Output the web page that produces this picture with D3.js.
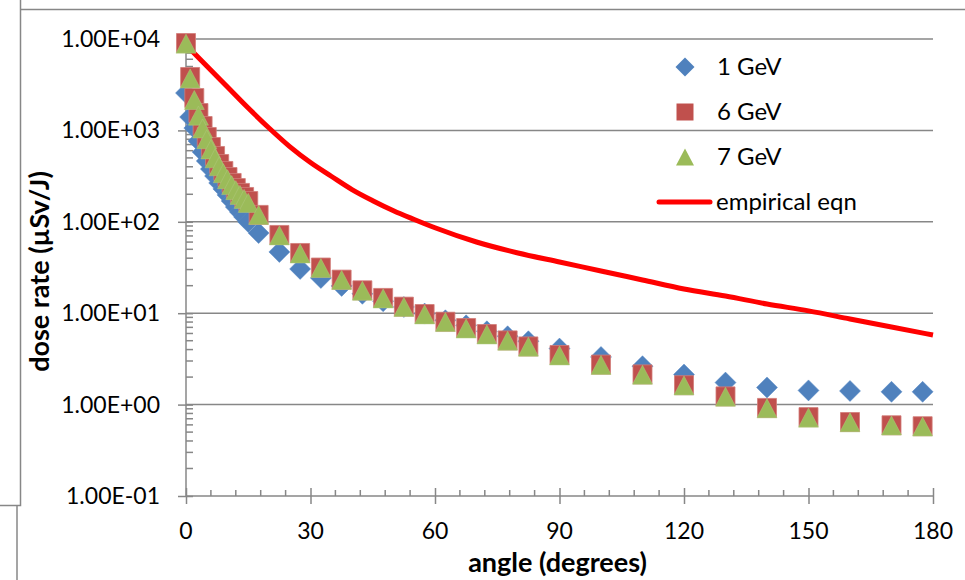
<!DOCTYPE html>
<html>
<head>
<meta charset="utf-8">
<script src="https://cdn.jsdelivr.net/npm/d3@7"></script>
<style>
  html, body { margin: 0; padding: 0; background: #fff; }
  svg { display: block; }
  text { font-family: Lato, "Noto Sans", sans-serif; fill: #000; }
</style>
</head>
<body>
<svg id="chart" width="965" height="580"></svg>
<script>
// ---- data ----
const angles = [0,1,2,3,4,5,6,7,8,9,10,11,12,13,14,15,
  17.5,22.5,27.5,32.5,37.5,42.5,47.5,52.5,57.5,62.5,67.5,72.5,77.5,82.5,
  90,100,110,120,130,140,150,160,170,177.5];
const gev1 = [2565,1400,1060,766,580,463,378,317,266,229,197,169,145,128,113,99.6,
  75.3,46.8,30.5,24.3,19.9,16.3,13.5,11.7,9.9,8.36,7.37,6.34,5.59,4.93,
  4.10,3.32,2.63,2.13,1.74,1.54,1.43,1.41,1.38,1.38];
const gev6 = [9040,3840,2260,1550,1117,847,658,525,429,360,309,266,234,207,187,169,
  119,71.8,45.6,31.6,23.3,17.8,14.7,11.8,9.8,8.07,6.89,5.92,5.04,4.33,
  3.49,2.74,2.14,1.63,1.23,0.92,0.73,0.645,0.594,0.58];
const gev7 = [8900,3700,2150,1450,1050,800,620,495,405,340,292,252,222,197,178,161,
  119,71,45,31.2,23.1,17.6,14.5,11.7,9.7,8.0,6.8,5.85,5.0,4.3,
  3.45,2.72,2.12,1.62,1.22,0.91,0.72,0.64,0.59,0.575];
const empAngles = [0,5,10,15,20,25,30,35,40,45,50,55,60,70,80,90,100,110,120,130,140,150,160,170,180];
const empValues = [8590,5070,2985,1758,1062,665,445,315,225,170,132,106,86,60.1,45.6,36.3,29.0,23.1,18.4,15.4,12.6,10.6,8.65,7.07,5.77];
const xTicks = [0,30,60,90,120,150,180];
const yTicks = [1e-1,1e0,1e1,1e2,1e3,1e4];
const yTickLabels = ["1.00E-01","1.00E+00","1.00E+01","1.00E+02","1.00E+03","1.00E+04"];
const seriesNames = ["1 GeV","6 GeV","7 GeV","empirical eqn"];
const xTitle = "angle (degrees)";
const yTitle = "dose rate (µSv/J)";

// ---- layout ----
const svg = d3.select("#chart");
const L = 186, R = 933, T = 39, B = 496;
const x = d3.scaleLinear().domain([0,180]).range([L,R]);
const y = d3.scaleLog().domain([0.1,1e4]).range([B,T]);
const gray = "#878787";
const cBlue = "#4F81BD", cRed = "#C0504D", cGreen = "#9BBB59", cLine = "#FF0000";

// frame lines (screenshot border)
const frame = svg.append("g").attr("stroke", gray).attr("stroke-width", 1.5).attr("fill","none");
frame.append("path").attr("d", "M20.5,0 V505.5 H0");
frame.append("path").attr("d", "M20.5,9.5 H965");
frame.append("path").attr("d", "M17,505.5 V580");

// gridlines
svg.append("g").selectAll("line").data(yTicks.slice(1)).join("line")
  .attr("x1", L).attr("x2", R)
  .attr("y1", d => y(d)).attr("y2", d => y(d))
  .attr("stroke", gray).attr("stroke-width", 1.5);

// y axis (major ticks cross, minor inside)
const yAxisG = svg.append("g").attr("transform", `translate(${L},0)`);
const minor = [];
for (let e = -1; e < 4; e++) for (let m = 2; m <= 9; m++) minor.push(m * Math.pow(10, e));
yAxisG.call(d3.axisLeft(y).tickValues(yTicks).tickSize(8).tickFormat(""))
  .call(g => g.select(".domain").remove());
yAxisG.selectAll(".tick line").attr("stroke", gray).attr("stroke-width", 1.5).attr("x2", -8).attr("x1", 7);
yAxisG.append("g").selectAll("line").data(minor).join("line")
  .attr("x1", 0).attr("x2", 7).attr("y1", d => y(d)).attr("y2", d => y(d))
  .attr("stroke", gray).attr("stroke-width", 1.5);
yAxisG.append("line").attr("x1",0).attr("x2",0).attr("y1",T).attr("y2",B)
  .attr("stroke", gray).attr("stroke-width", 1.5);
svg.append("g").selectAll("text").data(yTicks).join("text")
  .attr("x", 160).attr("y", d => y(d) + 8)
  .attr("text-anchor", "end").attr("font-size", 23)
  .text((d,i) => yTickLabels[i]);

// x axis
const xAxisG = svg.append("g").attr("transform", `translate(0,${B})`);
xAxisG.call(d3.axisBottom(x).tickValues(xTicks).tickSize(8).tickFormat(""))
  .call(g => g.select(".domain").remove());
xAxisG.selectAll(".tick line").attr("stroke", gray).attr("stroke-width", 1.5).attr("y1", -8).attr("y2", 8);
xAxisG.append("g").selectAll("line").data(d3.range(6,180,6).filter(v => v % 30 !== 0)).join("line")
  .attr("x1", d => x(d)).attr("x2", d => x(d)).attr("y1", 0).attr("y2", -6)
  .attr("stroke", gray).attr("stroke-width", 1.5);
xAxisG.append("line").attr("x1", L).attr("x2", R).attr("y1",0).attr("y2",0)
  .attr("stroke", gray).attr("stroke-width", 1.5);
svg.append("g").selectAll("text").data(xTicks).join("text")
  .attr("x", d => x(d)).attr("y", 539)
  .attr("text-anchor", "middle").attr("font-size", 23)
  .text(d => d);

// axis titles
svg.append("text").attr("x", x(90) - 2).attr("y", 572).attr("text-anchor","middle")
  .attr("font-size", 27).attr("font-weight", "bold").text(xTitle);
svg.append("text").attr("transform", `translate(49,${(T+B)/2 + 4}) rotate(-90)`)
  .attr("text-anchor","middle").attr("font-size", 27).attr("font-weight","bold").text(yTitle);

// empirical line (drawn below markers)
const line = d3.line().x(d => x(d[0])).y(d => y(d[1])).curve(d3.curveMonotoneX);
svg.append("path").datum(empAngles.map((a,i) => [a, empValues[i]]))
  .attr("d", line).attr("fill","none").attr("stroke", cLine).attr("stroke-width", 5);

// markers
const S = 19;
const diamond = (cx, cy, h) => `M${cx},${cy-h}L${cx+h},${cy}L${cx},${cy+h}L${cx-h},${cy}Z`;
const square = (cx, cy, s) => `M${cx-s/2},${cy-s/2}h${s}v${s}h${-s}Z`;
const tri = (cx, cy, s) => `M${cx},${cy-s/2}L${cx+s/2+0.5},${cy+s/2}L${cx-s/2-0.5},${cy+s/2}Z`;

svg.append("g").selectAll("path").data(angles.map((a,i) => [a, gev1[i]])).join("path")
  .attr("d", d => diamond(x(d[0]), y(d[1]), 10.5)).attr("fill", cBlue)
  .attr("stroke", "#5a8ac6").attr("stroke-width", 0.5);
svg.append("g").selectAll("path").data(angles.map((a,i) => [a, gev6[i]])).join("path")
  .attr("d", d => square(x(d[0]), y(d[1]), S)).attr("fill", cRed)
  .attr("stroke", "#d27c79").attr("stroke-width", 0.8);
svg.append("g").selectAll("path").data(angles.map((a,i) => [a, gev7[i]])).join("path")
  .attr("d", d => tri(x(d[0]), y(d[1]), S)).attr("fill", cGreen)
  .attr("stroke", "#b0c97f").attr("stroke-width", 0.5);

// legend
const lg = svg.append("g");
lg.append("path").attr("d", diamond(685, 67, 9.5)).attr("fill", cBlue);
lg.append("path").attr("d", square(685, 112, 17)).attr("fill", cRed);
lg.append("path").attr("d", tri(685, 157, 17)).attr("fill", cGreen);
lg.append("line").attr("x1", 659).attr("x2", 710).attr("y1", 202).attr("y2", 202)
  .attr("stroke", cLine).attr("stroke-width", 5).attr("stroke-linecap","round");
const lgY = [67, 112, 157, 202];
lg.selectAll("text").data(seriesNames).join("text")
  .attr("x", (d,i) => i === 3 ? 716 : 717).attr("y", (d,i) => lgY[i] + 8)
  .attr("font-size", 24).text(d => d);
</script>
</body>
</html>
